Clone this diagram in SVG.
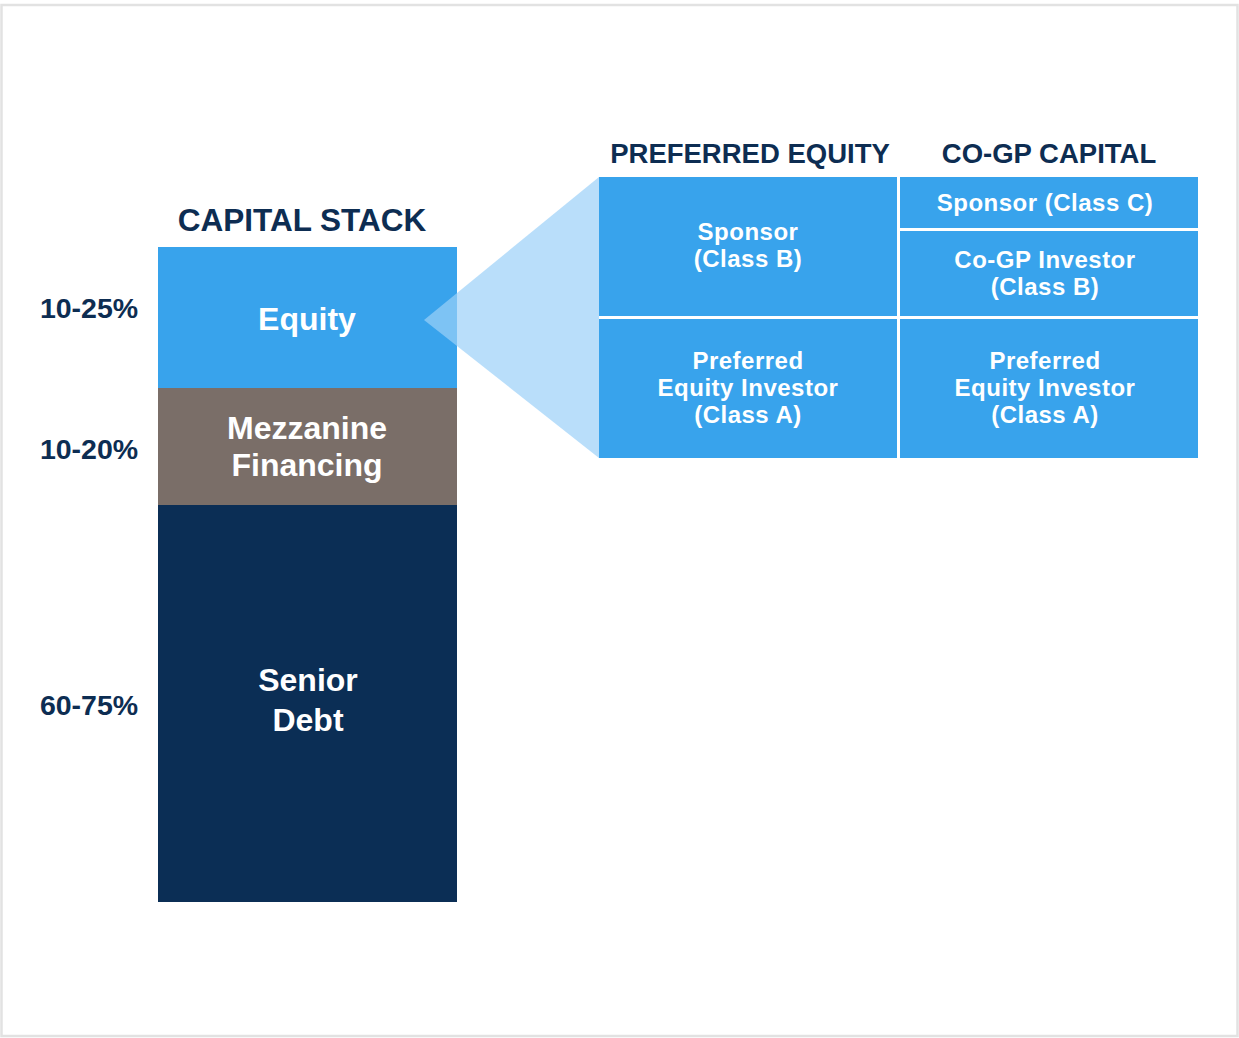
<svg xmlns="http://www.w3.org/2000/svg" width="1239" height="1038" viewBox="0 0 1239 1038">
  <style>
    text { font-family: "Liberation Sans", Arial, sans-serif; font-weight: bold; text-anchor: middle; }
    .title { fill: #0d2d52; font-size: 27.5px; }
    .pct { fill: #0d2d52; font-size: 28.5px; }
    .big { fill: #ffffff; font-size: 32px; }
    .cell { fill: #ffffff; font-size: 24px; letter-spacing: 0.5px; }
    .blue { fill: #38a3ec; }
  </style>

  <!-- page frame -->
  <rect x="0" y="0" width="1239" height="1038" fill="#ffffff"/>
  <rect x="1.5" y="5" width="1236" height="1031" fill="none" stroke="#e2e2e2" stroke-width="2.5"/>

  <!-- headings -->
  <text class="title" x="302" y="231" style="font-size:31.5px">CAPITAL STACK</text>
  <text class="title" x="750" y="163">PREFERRED EQUITY</text>
  <text class="title" x="1049" y="163">CO-GP CAPITAL</text>

  <!-- percentage labels -->
  <text class="pct" x="89" y="318">10-25%</text>
  <text class="pct" x="89" y="459">10-20%</text>
  <text class="pct" x="89" y="715">60-75%</text>

  <!-- capital stack -->
  <g id="equity">
    <rect x="158" y="247" width="299" height="141" fill="#38a3ec"/>
    <text class="big" x="307" y="330">Equity</text>
  </g>
  <g id="mezzanine">
    <rect x="158" y="388" width="299" height="117" fill="#7a6e68"/>
    <text class="big" x="307" y="439">Mezzanine</text>
    <text class="big" x="307" y="476">Financing</text>
  </g>
  <g id="senior-debt">
    <rect x="158" y="505" width="299" height="397" fill="#0b2e55"/>
    <text class="big" x="308" y="691">Senior</text>
    <text class="big" x="308" y="731">Debt</text>
  </g>

  <!-- expansion wedge from equity to the breakdown grid -->
  <g id="connectors">
    <polygon points="424,320 599,177 599,458" fill="#9bd0f8" opacity="0.7"/>
  </g>

  <!-- equity breakdown grid -->
  <g id="sponsor-b">
    <rect class="blue" x="599" y="177" width="298" height="139"/>
    <text class="cell" x="748" y="240">Sponsor</text>
    <text class="cell" x="748" y="267">(Class B)</text>
  </g>
  <g id="sponsor-c">
    <rect class="blue" x="900" y="177" width="298" height="51"/>
    <text class="cell" x="1045" y="211">Sponsor (Class C)</text>
  </g>
  <g id="co-gp-investor">
    <rect class="blue" x="900" y="231" width="298" height="85"/>
    <text class="cell" x="1045" y="268">Co-GP Investor</text>
    <text class="cell" x="1045" y="295">(Class B)</text>
  </g>
  <g id="preferred-investor-left">
    <rect class="blue" x="599" y="319" width="298" height="139"/>
    <text class="cell" x="748" y="369">Preferred</text>
    <text class="cell" x="748" y="396">Equity Investor</text>
    <text class="cell" x="748" y="423">(Class A)</text>
  </g>
  <g id="preferred-investor-right">
    <rect class="blue" x="900" y="319" width="298" height="139"/>
    <text class="cell" x="1045" y="369">Preferred</text>
    <text class="cell" x="1045" y="396">Equity Investor</text>
    <text class="cell" x="1045" y="423">(Class A)</text>
  </g>
</svg>
